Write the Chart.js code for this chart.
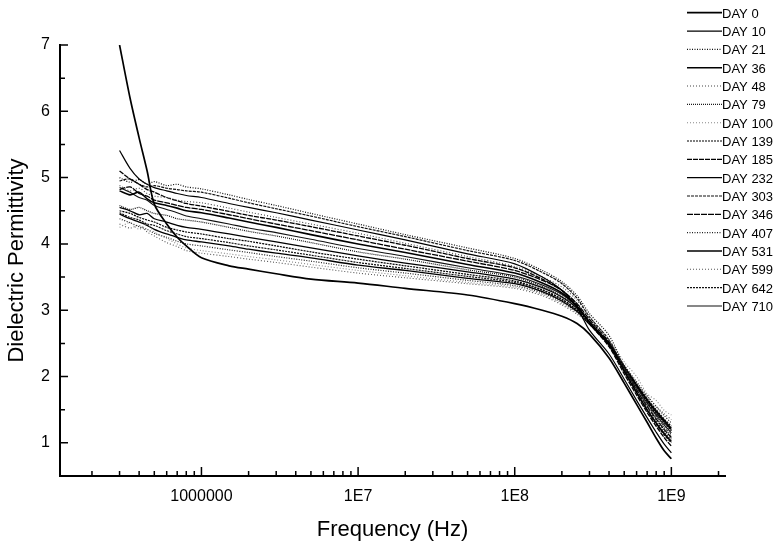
<!DOCTYPE html>
<html>
<head>
<meta charset="utf-8">
<script src="https://cdn.jsdelivr.net/npm/chart.js@4.4.1/dist/chart.umd.min.js"></script>
<style>
  html, body { margin: 0; padding: 0; background: #fff; }
  #wrap { width: 777px; height: 548px; }
</style>
</head>
<body>
<div id="wrap"><canvas id="myChart" width="777" height="548"></canvas></div>
<script>
// frequencies (Hz) shared by every curve
const freqs = [3e5, 3.5e5, 4e5, 4.5e5, 5e5, 6e5, 7e5, 8e5, 1e6, 1.5e6, 2e6, 3e6, 5e6, 1e7, 2e7, 5e7, 1e8,
               1.5e8, 2e8, 2.5e8, 3e8, 4e8, 5e8, 6e8, 7e8, 8e8, 9e8, 1e9];

const dayNames = ['DAY 0', 'DAY 10', 'DAY 21', 'DAY 36', 'DAY 48', 'DAY 79', 'DAY 100', 'DAY 139', 'DAY 185',
                  'DAY 232', 'DAY 303', 'DAY 346', 'DAY 407', 'DAY 531', 'DAY 599', 'DAY 642', 'DAY 710'];

const day0   = [7.0, 6.2, 5.6, 5.1, 4.6, 4.3, 4.1, 3.97, 3.79, 3.67, 3.62, 3.55, 3.47, 3.41, 3.33, 3.23, 3.10, 3.00, 2.91, 2.80, 2.64, 2.28, 1.90, 1.58, 1.31, 1.07, 0.88, 0.76];
const day10  = [5.41, 5.14, 4.98, 4.90, 4.85, 4.80, 4.76, 4.73, 4.70, 4.61, 4.55, 4.47, 4.36, 4.21, 4.06, 3.85, 3.70, 3.50, 3.30, 3.04, 2.70, 2.34, 1.96, 1.64, 1.38, 1.16, 0.98, 0.85];
const day21  = [5.00, 4.93, 4.97, 4.90, 4.94, 4.88, 4.90, 4.86, 4.83, 4.74, 4.67, 4.58, 4.46, 4.30, 4.14, 3.94, 3.78, 3.60, 3.43, 3.22, 2.95, 2.62, 2.15, 1.80, 1.53, 1.33, 1.17, 1.05];
const day36  = [4.80, 4.74, 4.78, 4.68, 4.62, 4.58, 4.54, 4.50, 4.47, 4.39, 4.33, 4.25, 4.14, 4.00, 3.87, 3.69, 3.56, 3.41, 3.26, 3.06, 2.82, 2.48, 2.08, 1.76, 1.50, 1.30, 1.14, 1.02];
const day48  = [4.88, 4.80, 4.84, 4.76, 4.72, 4.70, 4.66, 4.64, 4.62, 4.54, 4.48, 4.40, 4.30, 4.16, 4.01, 3.81, 3.66, 3.50, 3.35, 3.15, 2.90, 2.56, 2.14, 1.82, 1.57, 1.38, 1.22, 1.10];
const day79  = [4.58, 4.52, 4.55, 4.50, 4.46, 4.43, 4.38, 4.36, 4.33, 4.25, 4.19, 4.12, 4.02, 3.88, 3.77, 3.61, 3.50, 3.36, 3.22, 3.04, 2.82, 2.49, 2.12, 1.82, 1.58, 1.40, 1.24, 1.12];
const day100 = [4.25, 4.32, 4.22, 4.30, 4.18, 4.08, 4.00, 3.94, 3.90, 3.85, 3.81, 3.76, 3.69, 3.60, 3.52, 3.42, 3.35, 3.24, 3.10, 2.96, 2.82, 2.55, 2.22, 2.00, 1.74, 1.64, 1.49, 1.42];
const day139 = [4.50, 4.46, 4.40, 4.36, 4.33, 4.25, 4.21, 4.18, 4.15, 4.08, 4.04, 3.97, 3.88, 3.77, 3.67, 3.54, 3.44, 3.31, 3.17, 3.00, 2.80, 2.48, 2.13, 1.85, 1.62, 1.44, 1.30, 1.18];
const day185 = [5.10, 4.98, 4.90, 4.82, 4.78, 4.70, 4.65, 4.61, 4.57, 4.49, 4.43, 4.36, 4.26, 4.12, 3.98, 3.78, 3.64, 3.47, 3.30, 3.08, 2.80, 2.45, 2.04, 1.72, 1.46, 1.25, 1.08, 0.95];
const day232 = [4.45, 4.38, 4.33, 4.28, 4.22, 4.15, 4.10, 4.06, 4.03, 3.97, 3.92, 3.86, 3.79, 3.68, 3.60, 3.48, 3.40, 3.28, 3.14, 2.98, 2.79, 2.48, 2.14, 1.87, 1.65, 1.48, 1.34, 1.22];
const day303 = [4.95, 4.98, 4.90, 4.86, 4.88, 4.84, 4.82, 4.80, 4.78, 4.69, 4.62, 4.53, 4.42, 4.26, 4.11, 3.90, 3.75, 3.57, 3.40, 3.18, 2.90, 2.55, 2.10, 1.76, 1.49, 1.28, 1.12, 1.00];
const day346 = [4.82, 4.86, 4.76, 4.72, 4.66, 4.62, 4.58, 4.55, 4.52, 4.44, 4.38, 4.30, 4.20, 4.06, 3.92, 3.74, 3.60, 3.45, 3.30, 3.10, 2.86, 2.52, 2.12, 1.80, 1.55, 1.36, 1.20, 1.08];
const day407 = [4.38, 4.32, 4.26, 4.22, 4.16, 4.10, 4.04, 4.00, 3.97, 3.91, 3.87, 3.81, 3.74, 3.64, 3.56, 3.45, 3.37, 3.26, 3.12, 2.97, 2.79, 2.50, 2.17, 1.92, 1.71, 1.55, 1.41, 1.30];
const day531 = [4.55, 4.50, 4.44, 4.46, 4.38, 4.33, 4.28, 4.25, 4.22, 4.15, 4.10, 4.03, 3.94, 3.82, 3.71, 3.58, 3.47, 3.34, 3.20, 3.03, 2.82, 2.50, 2.15, 1.87, 1.64, 1.46, 1.32, 1.20];
const day599 = [4.30, 4.24, 4.28, 4.18, 4.12, 4.02, 3.96, 3.90, 3.86, 3.81, 3.77, 3.72, 3.65, 3.56, 3.49, 3.40, 3.33, 3.22, 3.08, 2.94, 2.78, 2.48, 2.15, 1.90, 1.70, 1.55, 1.44, 1.35];
const day642 = [4.47, 4.40, 4.36, 4.30, 4.28, 4.20, 4.15, 4.11, 4.08, 4.02, 3.97, 3.91, 3.83, 3.72, 3.63, 3.51, 3.42, 3.30, 3.16, 3.00, 2.81, 2.50, 2.16, 1.89, 1.67, 1.50, 1.36, 1.25];
const day710 = [4.85, 4.78, 4.70, 4.66, 4.58, 4.52, 4.47, 4.42, 4.38, 4.30, 4.24, 4.17, 4.07, 3.93, 3.81, 3.64, 3.52, 3.38, 3.24, 3.05, 2.83, 2.50, 2.13, 1.84, 1.60, 1.42, 1.27, 1.15];

const dayValues = [day0, day10, day21, day36, day48, day79, day100, day139, day185,
                   day232, day303, day346, day407, day531, day599, day642, day710];

// axis ticks
const xTickValues = [1e6, 1e7, 1e8, 1e9];
const xTickLabels = ['1000000', '1E7', '1E8', '1E9'];
const yTickValues = [1, 2, 3, 4, 5, 6, 7];

// line look for each day (colour, width, dash)
const lineStyles = [
    { c: '#000', w: 1.7, d: [] },
    { c: '#000', w: 1.2, d: [] },
    { c: '#111', w: 1.2, d: [1, 1.5] },
    { c: '#000', w: 1.6, d: [] },
    { c: '#444', w: 1.1, d: [1, 2] },
    { c: '#111', w: 1.2, d: [1, 1] },
    { c: '#888', w: 1.1, d: [1, 2] },
    { c: '#000', w: 1.2, d: [2, 1] },
    { c: '#000', w: 1.3, d: [5, 1] },
    { c: '#000', w: 1.3, d: [] },
    { c: '#111', w: 1.2, d: [3, 1] },
    { c: '#000', w: 1.3, d: [6, 1] },
    { c: '#222', w: 1.2, d: [1, 1.5] },
    { c: '#000', w: 1.3, d: [] },
    { c: '#555', w: 1.1, d: [1, 2] },
    { c: '#111', w: 1.2, d: [2, 1] },
    { c: '#111', w: 1.1, d: [] },
];

Chart.defaults.font.family = '"Liberation Sans", Arial, sans-serif';
Chart.defaults.color = '#000';

const datasets = dayNames.map((name, i) => ({
    label: name,
    data: freqs.map((f, j) => ({ x: f, y: dayValues[i][j] })),
    borderColor: lineStyles[i].c,
    borderWidth: lineStyles[i].w,
    borderDash: lineStyles[i].d,
    fill: false,
}));

// inward ticks like the original plot
const axisTicks = {
    id: 'axisTicks',
    afterDraw(chart) {
        const { ctx, chartArea: a, scales: { x, y } } = chart;
        ctx.save();
        ctx.strokeStyle = '#000';
        ctx.lineWidth = 1.5;
        ctx.beginPath();
        for (let v = 1; v <= 7; v += 0.5) {
            const py = y.getPixelForValue(v);
            ctx.moveTo(a.left, py);
            ctx.lineTo(a.left + (v % 1 === 0 ? 8 : 5), py);
        }
        for (let e = 5; e <= 9; e++) {
            for (let m = 1; m <= 9; m++) {
                const f = m * Math.pow(10, e);
                if (f < x.min || f > x.max) continue;
                const px = x.getPixelForValue(f);
                ctx.moveTo(px, a.bottom);
                ctx.lineTo(px, a.bottom - (m === 1 ? 9 : 5));
            }
        }
        ctx.stroke();
        ctx.restore();
    }
};

const dayLegend = {
    id: 'dayLegend',
    afterDraw(chart) {
        const ctx = chart.ctx;
        chart.data.datasets.forEach((ds, i) => {
            const yy = 12.7 + i * 18.33;
            ctx.save();
            ctx.strokeStyle = ds.borderColor;
            ctx.lineWidth = ds.borderWidth;
            ctx.setLineDash(ds.borderDash);
            ctx.beginPath();
            ctx.moveTo(687, yy);
            ctx.lineTo(722, yy);
            ctx.stroke();
            ctx.setLineDash([]);
            ctx.fillStyle = '#000';
            ctx.font = '13px "Liberation Sans", Arial, sans-serif';
            ctx.textBaseline = 'middle';
            ctx.fillText(ds.label, 722, yy + 1.5);
            ctx.restore();
        });
    }
};

const ctx = document.getElementById('myChart').getContext('2d');
const myChart = new Chart(ctx, {
    type: 'line',
    data: { datasets: datasets },
    options: {
        responsive: false,
        animation: false,
        layout: { padding: { top: 45, right: 52, left: 0, bottom: 0 } },
        plugins: { legend: { display: false }, tooltip: { enabled: false } },
        elements: { point: { radius: 0 }, line: { tension: 0.3 } },
        scales: {
            x: {
                type: 'logarithmic',
                min: 1.25e5,
                max: 2.2e9,
                grid: { display: false, drawTicks: false },
                border: { display: true, color: '#000', width: 2 },
                ticks: {
                    font: { size: 16 },
                    padding: 11,
                    maxRotation: 0,
                    autoSkip: false,
                    callback: (v) => xTickLabels[xTickValues.indexOf(v)]
                },
                afterBuildTicks: (s) => { s.ticks = xTickValues.map(v => ({ value: v })); },
                afterFit: (s) => { s.height = 72; },
                title: { display: true, text: 'Frequency (Hz)', font: { size: 22 }, padding: { top: 0, bottom: 5 } }
            },
            y: {
                min: 0.5,
                max: 7,
                grid: { display: false, drawTicks: false },
                border: { display: true, color: '#000', width: 2 },
                ticks: { font: { size: 16 }, padding: 10 },
                afterBuildTicks: (s) => { s.ticks = yTickValues.map(v => ({ value: v })); },
                afterFit: (s) => { s.width = 60; },
                title: { display: true, text: 'Dielectric Permittivity', font: { size: 22 }, padding: { top: 4, bottom: 0 } }
            }
        }
    },
    plugins: [axisTicks, dayLegend]
});
</script>
</body>
</html>
